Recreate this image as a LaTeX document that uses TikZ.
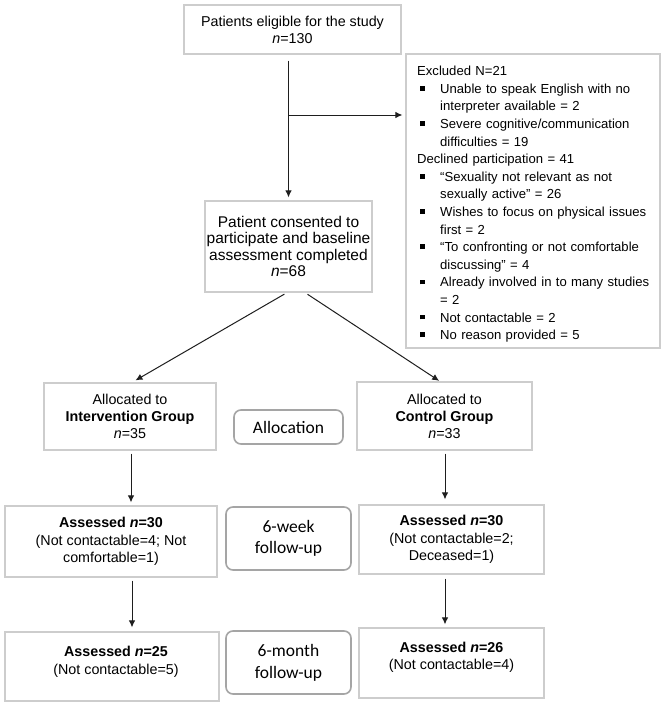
\documentclass[tikz,border=0pt]{standalone}
\usepackage{fontspec}
\setmainfont{Liberation Sans}
\newfontfamily\calfont{Carlito}
\usetikzlibrary{arrows.meta}
\definecolor{boxgray}{RGB}{205,205,205}
\definecolor{rndgray}{RGB}{165,165,165}
\definecolor{linegray}{RGB}{30,30,30}
\newcommand{\bul}{\raisebox{2.6pt}{\rule{4.6pt}{4.6pt}}}
\newcommand{\bitem}[1]{\par\hangindent=23pt\hangafter=1\noindent\hspace*{3pt}\makebox[20pt][l]{\bul}#1}
\begin{document}
\begin{tikzpicture}[x=1pt,y=-1pt,
  box/.style={draw=boxgray,line width=1.2pt,fill=white,inner sep=0pt,align=center,
     font=\fontsize{14.3}{17.5}\selectfont},
  txt/.style={inner sep=0pt,align=center,font=\fontsize{14.3}{17.5}\selectfont},
  rnd/.style={draw=rndgray,line width=1.6pt,rounded corners=7pt,inner sep=0pt,align=center,
     font=\calfont\fontsize{17.5}{21}\selectfont},
  arr/.style={draw=linegray,line width=1pt,-{Latex[length=7pt,width=6.5pt]}}]
\useasboundingbox (0,0) rectangle (668,709);
\fill[white] (0,0) rectangle (668,709);

\node[box,minimum width=217pt,minimum height=49pt,font=\fontsize{14.3}{17}\selectfont] (top) at (292.5,29.5)
  {Patients eligible for the study\\\textit{n}=130};

\node[box,minimum width=254pt,minimum height=294pt] (excl) at (533,201) {};
\node[anchor=north west,inner sep=0pt,text width=245pt,align=left,
  font=\fontsize{13.1}{17.6}\selectfont] (excltext) at (417,66) {%
  Excluded N=21
  \bitem{Unable to speak English with no\newline interpreter available = 2}
  \bitem{Severe cognitive/communication\newline difficulties = 19}
  \par\noindent Declined participation = 41
  \bitem{“Sexuality not relevant as not\newline sexually active” = 26}
  \bitem{Wishes to focus on physical issues\newline first = 2}
  \bitem{“To confronting or not comfortable\newline discussing” = 4}
  \bitem{Already involved in to many studies\newline = 2}
  \bitem{Not contactable = 2}
  \bitem{No reason provided = 5}};

\node[box,minimum width=167pt,minimum height=91pt,font=\fontsize{15.5}{16.6}\selectfont] (cons) at (288.5,246.5)
  {Patient consented to\\participate and baseline\\assessment completed\\\textit{n}=68};

\node[box,minimum width=172pt,minimum height=67pt,font=\fontsize{14.3}{17}\selectfont] (interv) at (130,416.5)
  {Allocated to\\\textbf{Intervention Group}\\\textit{n}=35};
\node[rnd,minimum width=109pt,minimum height=34pt] (alloc) at (288.5,427) {Allocation};
\node[box,minimum width=175pt,minimum height=68pt,font=\fontsize{14.3}{17}\selectfont] (ctrl) at (444.5,416)
  {Allocated to\\\textbf{Control Group}\\\textit{n}=33};

\node[box,minimum width=212pt,minimum height=71pt] (al) at (111,541.5)
  {\textbf{Assessed \textit{n}=30}\\(Not contactable=4; Not\\comfortable=1)};
\node[rnd,minimum width=125pt,minimum height=63pt] (wk) at (288.5,538.5) {6-week\\follow-up};
\node[box,minimum width=185pt,minimum height=69pt] (ar) at (451.5,539.5)
  {\textbf{Assessed \textit{n}=30}\\(Not contactable=2;\\Deceased=1)};

\node[box,minimum width=214pt,minimum height=69pt] (bl) at (112,666.5) {};
\node[txt] (bltext) at (116,662) {\textbf{Assessed \textit{n}=25}\\(Not contactable=5)};
\node[rnd,minimum width=125pt,minimum height=63pt,font=\calfont\fontsize{17.5}{22}\selectfont] (mo) at (288.5,662.5) {6-month\\follow-up};
\node[box,minimum width=185pt,minimum height=70pt] (br) at (451.5,663) {};
\node[txt] (brtext) at (451.5,657.5) {\textbf{Assessed \textit{n}=26}\\(Not contactable=4)};

% connectors
\coordinate (split) at (288.5,115);
\draw[arr,shorten <=6pt,shorten >=3pt] ([xshift=-4pt]top.south) -- (cons.north);
\draw[arr,shorten >=3pt] (split) -- (split -| excl.west);
\draw[arr,shorten <=3pt,shorten >=4pt] ([xshift=-1.5pt]cons.south) -- ([xshift=2pt]interv.north);
\draw[arr,shorten <=3pt,shorten >=1pt] ([xshift=16.5pt]cons.south) -- ([xshift=-4.5pt]ctrl.north);
\draw[arr,shorten <=3pt,shorten >=3pt] ([xshift=1pt]interv.south) -- ([xshift=1pt]interv.south |- al.north);
\draw[arr,shorten <=3pt,shorten >=5pt] ([xshift=0.5pt]ctrl.south) -- ([xshift=0.5pt]ctrl.south |- ar.north);
\draw[arr,shorten <=3pt,shorten >=4pt] (interv.south |- al.south) ++(2,0) coordinate (l3) -- (l3 |- bl.north);
\draw[arr,shorten <=4pt,shorten >=3pt] (ctrl.south |- ar.south) ++(0.5,0) coordinate (r3) -- (r3 |- br.north);
\end{tikzpicture}
\end{document}
